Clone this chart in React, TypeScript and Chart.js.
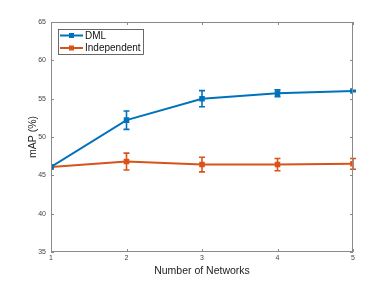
import React, { useEffect, useRef } from "react";
import { Chart, registerables } from "chart.js";

Chart.register(...registerables);

const networks = [1, 2, 3, 4, 5];
const dmlMean = [46.1, 52.2, 55.0, 55.7, 56.0];
const dmlErr = [0, 1.2, 1.05, 0.45, 0.1];
const indMean = [46.1, 46.8, 46.4, 46.4, 46.5];
const indErr = [0, 1.1, 0.95, 0.8, 0.7];
const seriesLabels = ["DML", "Independent"];
const yTicks = [35, 40, 45, 50, 55, 60, 65];

const BLUE = "#0072BD";
const ORANGE = "#D95319";
const FONT = "'Liberation Sans', Arial, sans-serif";

const errorBars = {
  id: "errorBars",
  afterDatasetsDraw(chart: any) {
    const { ctx } = chart;
    const ys = chart.scales.y;
    chart.data.datasets.forEach((ds: any, i: number) => {
      const meta = chart.getDatasetMeta(i);
      const errs: number[] = ds.errors || [];
      ctx.save();
      ctx.strokeStyle = ds.borderColor;
      ctx.lineWidth = 1.6;
      meta.data.forEach((pt: any, j: number) => {
        const e = errs[j];
        if (!e) return;
        const v = ds.data[j].y;
        const x = pt.x;
        const y1 = ys.getPixelForValue(v + e);
        const y2 = ys.getPixelForValue(v - e);
        ctx.beginPath();
        ctx.moveTo(x, y1);
        ctx.lineTo(x, y2);
        ctx.moveTo(x - 3, y1);
        ctx.lineTo(x + 3, y1);
        ctx.moveTo(x - 3, y2);
        ctx.lineTo(x + 3, y2);
        ctx.stroke();
      });
      ctx.restore();
    });
  },
};

const boxTicks = {
  id: "boxTicks",
  afterDraw(chart: any) {
    const { ctx, chartArea: a } = chart;
    const xs = chart.scales.x;
    const ys = chart.scales.y;
    ctx.save();
    ctx.strokeStyle = "#8a8a8a";
    ctx.lineWidth = 1;
    ctx.strokeRect(a.left + 0.5, a.top + 0.5, a.right - a.left - 1, a.bottom - a.top - 1);
    ctx.beginPath();
    xs.ticks.forEach((t: any) => {
      const x = Math.round(xs.getPixelForValue(t.value)) + 0.5;
      ctx.moveTo(x, a.bottom);
      ctx.lineTo(x, a.bottom - 3);
      ctx.moveTo(x, a.top);
      ctx.lineTo(x, a.top + 3);
    });
    ys.ticks.forEach((t: any) => {
      const y = Math.round(ys.getPixelForValue(t.value)) + 0.5;
      ctx.moveTo(a.left, y);
      ctx.lineTo(a.left + 3, y);
      ctx.moveTo(a.right, y);
      ctx.lineTo(a.right - 3, y);
    });
    ctx.stroke();

    // legend
    const lx = 58, ly = 29, lw = 85, lh = 25;
    ctx.fillStyle = "#fff";
    ctx.fillRect(lx, ly, lw, lh);
    ctx.strokeStyle = "#444";
    ctx.lineWidth = 0.8;
    ctx.strokeRect(lx + 0.5, ly + 0.5, lw, lh);
    chart.data.datasets.forEach((ds: any, i: number) => {
      const y = ly + 6.5 + i * 12.5;
      ctx.strokeStyle = ds.borderColor;
      ctx.lineWidth = 2;
      ctx.beginPath();
      ctx.moveTo(lx + 2, y);
      ctx.lineTo(lx + 25, y);
      ctx.stroke();
      ctx.fillStyle = ds.borderColor;
      ctx.fillRect(lx + 11, y - 2.5, 5, 5);
      ctx.fillStyle = "#111";
      ctx.font = `10px ${FONT}`;
      ctx.textBaseline = "middle";
      ctx.textAlign = "left";
      ctx.fillText(ds.label, lx + 27, y + 0.5);
    });
    ctx.restore();
  },
};

export default function App() {
  const ref = useRef<HTMLCanvasElement>(null);
  useEffect(() => {
    if (!ref.current) return;
    const mk = (vals: number[]) => networks.map((n, i) => ({ x: n, y: vals[i] }));
    const chart = new Chart(ref.current, {
      type: "line",
      data: {
        datasets: [
          {
            label: seriesLabels[0],
            data: mk(dmlMean),
            errors: dmlErr,
            borderColor: BLUE,
            backgroundColor: BLUE,
            borderWidth: 2,
            pointStyle: "rect",
            pointRadius: 2.5,
          } as any,
          {
            label: seriesLabels[1],
            data: mk(indMean),
            errors: indErr,
            borderColor: ORANGE,
            backgroundColor: ORANGE,
            borderWidth: 2,
            pointStyle: "rect",
            pointRadius: 2.5,
          } as any,
        ],
      },
      options: {
        animation: false,
        responsive: false,
        layout: { padding: { left: 0, top: 22, right: 37, bottom: 0 } },
        plugins: { legend: { display: false }, tooltip: { enabled: false } },
        scales: {
          x: {
            type: "linear",
            min: 1,
            max: 5,
            afterFit: (s: any) => { s.height = 31; },
            afterBuildTicks: (s: any) => { s.ticks = networks.map((v) => ({ value: v })); },
            grid: { display: false, drawTicks: false },
            border: { display: false },
            ticks: { color: "#444", font: { size: 7, family: FONT }, padding: 2 },
            title: {
              display: true,
              text: "Number of Networks",
              color: "#222",
              font: { size: 10.5, family: FONT },
              padding: { top: 0, bottom: 6 },
            },
          },
          y: {
            min: 35,
            max: 65,
            afterFit: (s: any) => { s.width = 51; },
            afterBuildTicks: (s: any) => { s.ticks = yTicks.map((v) => ({ value: v })); },
            grid: { display: false, drawTicks: false },
            border: { display: false },
            ticks: { color: "#444", font: { size: 7, family: FONT }, padding: 5 },
            title: {
              display: true,
              text: "mAP (%)",
              color: "#222",
              font: { size: 10.5, family: FONT },
              padding: { top: 27, bottom: 0 },
            },
          },
        },
      } as any,
      plugins: [errorBars, boxTicks],
    });
    return () => chart.destroy();
  }, []);
  return (
    <div style={{ position: "fixed", left: 0, top: 0, width: 390, height: 283, background: "#fff" }}>
      <canvas ref={ref} width={390} height={283} style={{ width: 390, height: 283 }} />
    </div>
  );
}
